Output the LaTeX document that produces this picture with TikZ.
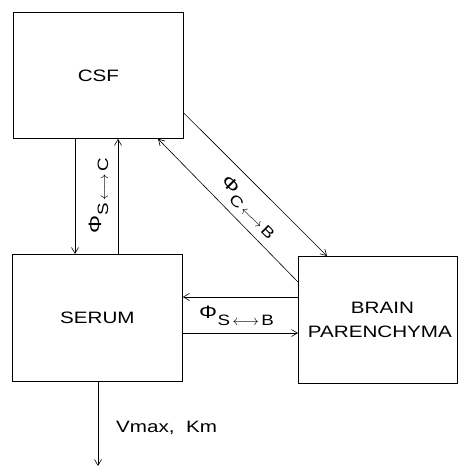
\documentclass[tikz,border=0pt]{standalone}
\usepackage{fontspec}
\setmainfont{Liberation Sans}[FakeStretch=1.25]
\usetikzlibrary{arrows.meta}
\newcommand{\flux}[2]{{\fontsize{18}{18}\selectfont Φ}\kern0.5pt\raisebox{-7pt}{\fontsize{15}{16}\selectfont #1$\,\longleftrightarrow\,$#2}}
\begin{document}
\begin{tikzpicture}[x=1pt,y=-1pt,
  box/.style={draw,line width=0.8pt,inner sep=0pt,anchor=north west,font=\fontsize{16.5}{24}\selectfont},
  flow/.style={line width=0.6pt,-{Straight Barb[length=6pt,width=7pt,line width=0.6pt]}},
  lbl/.style={inner sep=0pt,anchor=base west}]
\useasboundingbox (0,0) rectangle (458,468);
\node[box,minimum width=170pt,minimum height=126pt] (csf) at (13,12) {CSF};
\node[box,minimum width=170pt,minimum height=127pt] (serum) at (12,254) {SERUM};
\node[box,minimum width=159pt,minimum height=127pt,align=center] (brain) at (298,256) {\hspace*{9pt}BRAIN\\\hspace*{4pt}PARENCHYMA};
% CSF <-> SERUM
\draw[flow] (csf.south -| 75,0) -- (serum.north -| 75,0);
\draw[flow] (serum.north -| 118,0) -- (csf.south -| 118,0);
% CSF <-> BRAIN
\draw[flow] (csf.east |- 0,113) -- (brain.north -| 327,0);
\draw[flow] (brain.west |- 0,282) -- (csf.south -| 158,0);
% SERUM <-> BRAIN
\draw[flow] (brain.west |- 0,297) -- (serum.east |- 0,297);
\draw[flow] (serum.east |- 0,333) -- (brain.west |- 0,333);
% elimination
\coordinate (out) at (98,466);
\draw[flow] (serum.south -| 98,0) -- (out);
% labels
\node[lbl,rotate=90] (lsc) at (101,234) {\flux{S}{C}};
\node[lbl,rotate=-45] (lcb) at (220,182) {\flux{C}{B}};
\node[lbl] (lsb) at (199,318) {\flux{S}{B}};
\node[lbl,font=\fontsize{16.5}{18}\selectfont] (vk) at (116,432) {Vmax,\ \ Km};
\end{tikzpicture}
\end{document}
